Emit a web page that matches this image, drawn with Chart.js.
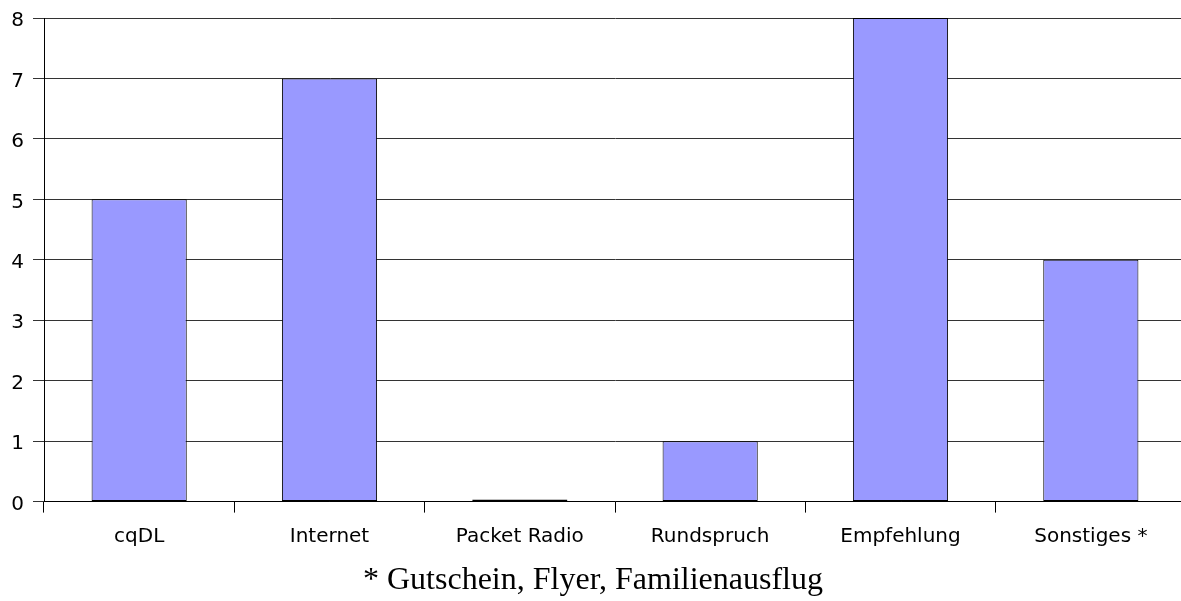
<!DOCTYPE html>
<html><head><meta charset="utf-8">
<script src="https://cdn.jsdelivr.net/npm/chart.js@4"></script>
<style>html,body{margin:0;padding:0;background:#fff;overflow:hidden;width:1181px;height:601px}
#wrap{width:1186px;height:601px;position:relative}</style>
</head><body>
<div id="wrap"><canvas id="c"></canvas></div>
<script>
const categories = ["cqDL", "Internet", "Packet Radio", "Rundspruch", "Empfehlung", "Sonstiges *"];
const values = [5, 7, 0, 1, 8, 4];
const yTicks = [0, 1, 2, 3, 4, 5, 6, 7, 8];
const caption = "* Gutschein, Flyer, Familienausflug";

new Chart(document.getElementById('c'), {
  type: 'bar',
  data: {
    labels: categories,
    datasets: [{
      data: values,
      backgroundColor: '#9999ff',
      borderColor: '#000',
      borderWidth: 1,
      borderSkipped: false,
      categoryPercentage: 1,
      barPercentage: 0.5,
      minBarLength: 2
    }]
  },
  options: {
    responsive: true,
    maintainAspectRatio: false,
    animation: false,
    layout: {padding: {top: 18, right: 0, bottom: 0, left: 0}},
    plugins: {
      legend: {display: false},
      tooltip: {enabled: false},
      title: {
        display: true,
        position: 'bottom',
        text: caption,
        color: '#000',
        font: {family: '"Liberation Serif", "Times New Roman", serif', size: 32, weight: 'normal', lineHeight: 1.2},
        padding: {top: 7, bottom: 1}
      }
    },
    scales: {
      x: {
        afterFit: s => { s.height = 53; },
        grid: {display: true, drawOnChartArea: false, drawTicks: true, tickLength: 11, color: '#000', offset: true},
        border: {display: true, color: '#000', width: 1},
        ticks: {color: '#000', font: {family: '"DejaVu Sans", sans-serif', size: 20}, padding: 12, maxRotation: 0}
      },
      y: {
        min: 0, max: 8,
        afterFit: s => { s.width = 44; },
        afterBuildTicks: s => { s.ticks = yTicks.map(v => ({value: v})); },
        grid: {display: true, drawOnChartArea: true, drawTicks: true, tickLength: 11, color: '#333'},
        border: {display: true, color: '#000', width: 1},
        ticks: {color: '#000', font: {family: '"DejaVu Sans", sans-serif', size: 20, lineHeight: 0.3}, padding: 9,
                callback: v => ['', String(v)]}
      }
    }
  }
});
</script>
</body></html>
